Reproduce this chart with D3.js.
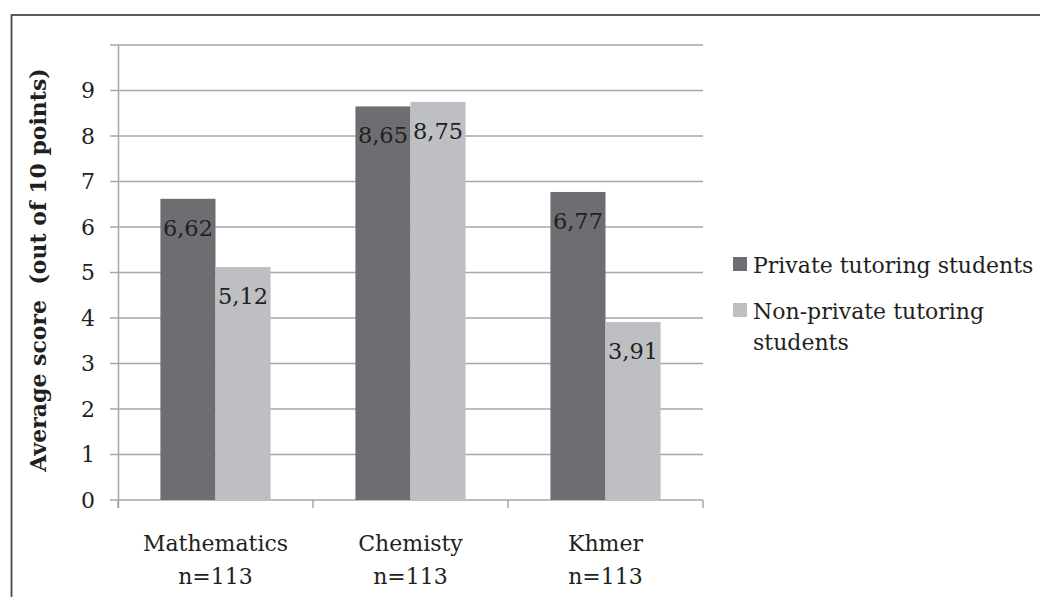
<!DOCTYPE html>
<html>
<head>
<meta charset="utf-8">
<script src="https://cdnjs.cloudflare.com/ajax/libs/d3/7.8.5/d3.min.js"></script>
<style>
  body { margin: 0; background: #fff; }
  svg { display: block; }
  text { font-family: "DejaVu Serif", serif; fill: #231f20; }
</style>
</head>
<body>
<svg id="chart" width="1040" height="597"></svg>
<script>
var categories = ["Mathematics", "Chemisty", "Khmer"];
var sampleSizes = ["n=113", "n=113", "n=113"];
var seriesNames = ["Private tutoring students", "Non-private tutoring students"];
var privateScores = [6.62, 8.65, 6.77];
var nonPrivateScores = [5.12, 8.75, 3.91];
var yTicks = [0, 1, 2, 3, 4, 5, 6, 7, 8, 9, 10];
var yLabels = ["0", "1", "2", "3", "4", "5", "6", "7", "8", "9"];
var colors = ["#6d6e72", "#bebfc3"];

var svg = d3.select("#chart");

// outer frame, runs off the page to the right and bottom
svg.append("rect")
  .attr("x", 11.5).attr("y", 15)
  .attr("width", 1100).attr("height", 700)
  .attr("fill", "none")
  .attr("stroke", "#4a4a4a")
  .attr("stroke-width", 1.8);

var plot = { left: 118, right: 703, top: 45, bottom: 500 };

var x = d3.scaleBand()
  .domain(categories)
  .range([plot.left, plot.right])
  .padding(0);

var xSub = d3.scaleBand()
  .domain([0, 1])
  .range([0, x.bandwidth()])
  .paddingInner(0)
  .paddingOuter(0.77);

var y = d3.scaleLinear()
  .domain([0, 10])
  .range([plot.bottom, plot.top]);

// gridlines
svg.append("g")
  .selectAll("line")
  .data(yTicks)
  .join("line")
  .attr("x1", plot.left - 8)
  .attr("x2", plot.right)
  .attr("y1", function(d) { return y(d); })
  .attr("y2", function(d) { return y(d); })
  .attr("stroke", "#a7a7a9")
  .attr("stroke-width", 1.5);

// y tick labels
svg.append("g")
  .selectAll("text")
  .data(yLabels)
  .join("text")
  .attr("x", 95)
  .attr("y", function(d) { return y(+d); })
  .attr("dy", "0.36em")
  .attr("text-anchor", "end")
  .attr("font-size", 22)
  .text(function(d) { return d; });

// y axis line
svg.append("line")
  .attr("x1", plot.left + 0.5).attr("x2", plot.left + 0.5)
  .attr("y1", plot.top).attr("y2", plot.bottom + 8)
  .attr("stroke", "#a7a7a9")
  .attr("stroke-width", 1.5);

// category separators on the x axis
var seps = categories.map(function(c) { return x(c); }).concat([plot.right]);
svg.append("g")
  .selectAll("line")
  .data(seps)
  .join("line")
  .attr("x1", function(d) { return d; })
  .attr("x2", function(d) { return d; })
  .attr("y1", plot.bottom)
  .attr("y2", plot.bottom + 8)
  .attr("stroke", "#a7a7a9")
  .attr("stroke-width", 1.5);

// bars
var fmt = function(v) { return d3.format(".2f")(v).replace(".", ","); };
var series = [privateScores, nonPrivateScores];

series.forEach(function(vals, s) {
  var g = svg.append("g");
  g.selectAll("rect")
    .data(vals)
    .join("rect")
    .attr("x", function(d, i) { return x(categories[i]) + xSub(s); })
    .attr("y", function(d) { return y(d); })
    .attr("width", xSub.bandwidth())
    .attr("height", function(d) { return y(0) - y(d); })
    .attr("fill", colors[s]);

  g.selectAll("text")
    .data(vals)
    .join("text")
    .attr("x", function(d, i) { return x(categories[i]) + xSub(s) + xSub.bandwidth() / 2; })
    .attr("y", function(d) { return y(d) + 37; })
    .attr("text-anchor", "middle")
    .attr("font-size", 22.5)
    .text(fmt);
});

// category labels
var cat = svg.append("g");
cat.selectAll("text.name")
  .data(categories)
  .join("text")
  .attr("class", "name")
  .attr("x", function(d) { return x(d) + x.bandwidth() / 2; })
  .attr("y", 551)
  .attr("text-anchor", "middle")
  .attr("font-size", 22)
  .text(function(d) { return d; });

cat.selectAll("text.n")
  .data(sampleSizes)
  .join("text")
  .attr("class", "n")
  .attr("x", function(d, i) { return x(categories[i]) + x.bandwidth() / 2; })
  .attr("y", 584)
  .attr("text-anchor", "middle")
  .attr("font-size", 22)
  .text(function(d) { return d; });

// y axis title
svg.append("text")
  .attr("transform", "translate(46, 270) rotate(-90)")
  .attr("text-anchor", "middle")
  .attr("font-size", 22)
  .attr("font-weight", "bold")
  .attr("xml:space", "preserve")
  .style("white-space", "pre")
  .text("Average score  (out of 10 points)");

// legend
var legend = svg.append("g");
var legendRows = [
  { lines: [seriesNames[0]], y: 271 },
  { lines: ["Non-private tutoring", "students"], y: 317 }
];
legendRows.forEach(function(row, i) {
  legend.append("rect")
    .attr("x", 733).attr("y", row.y - 14)
    .attr("width", 14).attr("height", 14)
    .attr("fill", colors[i]);
  row.lines.forEach(function(line, j) {
    legend.append("text")
      .attr("x", 753)
      .attr("y", row.y + 2 + j * 31)
      .attr("font-size", 22)
      .text(line);
  });
});
</script>
</body>
</html>
